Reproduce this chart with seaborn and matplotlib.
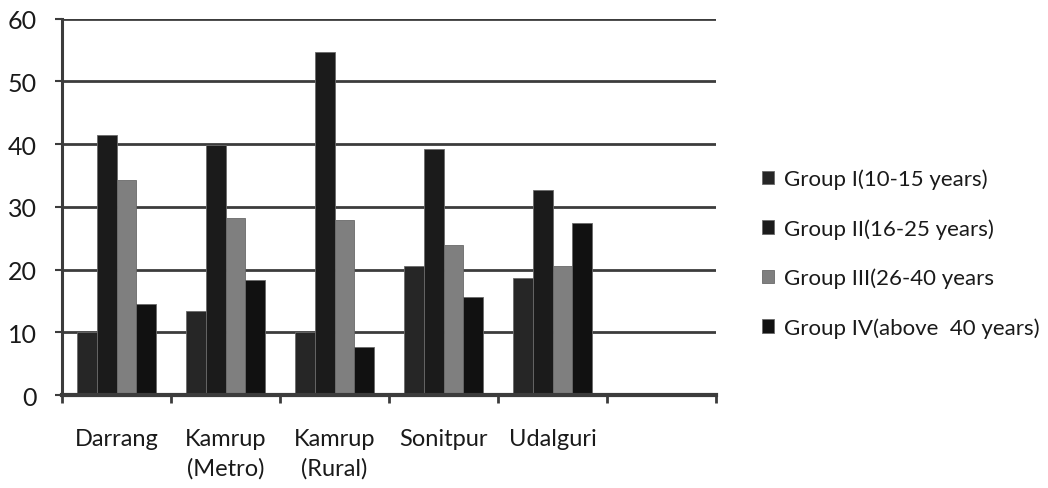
import numpy as np
import pandas as pd
import seaborn as sns
import matplotlib.pyplot as plt

# districts (the chart has one extra empty slot on the right)
districts = ["Darrang", "Kamrup\n(Metro)", "Kamrup\n(Rural)", "Sonitpur", "Udalguri"]
slots = districts + [""]

groups = ["Group I(10-15 years)", "Group II(16-25 years)",
          "Group III(26-40 years", "Group IV(above  40 years)"]

group1 = [10.0, 13.4, 10.0, 20.6, 18.7]
group2 = [41.5, 39.9, 54.6, 39.2, 32.7]
group3 = [34.3, 28.2, 27.9, 23.9, 20.6]
group4 = [14.5, 18.4, 7.6, 15.7, 27.5]

colors = ["#262626", "#1b1b1b", "#7f7f7f", "#111111"]

rows = []
for g, vals in zip(groups, [group1, group2, group3, group4]):
    for d, v in zip(districts, vals):
        rows.append({"District": d, "Group": g, "Value": v})
df = pd.DataFrame(rows)

sns.set_style("white")
plt.rcParams["font.family"] = ["Lato", "DejaVu Sans"]
plt.rcParams["text.color"] = "#1a1a1a"
plt.rcParams["xtick.labelcolor"] = "#1a1a1a"
plt.rcParams["ytick.labelcolor"] = "#1a1a1a"

fig = plt.figure(figsize=(10.48, 4.89), dpi=100)
ax = fig.add_axes([0.0592, 0.19, 0.624, 0.77])

sns.barplot(data=df, x="District", y="Value", hue="Group", order=slots,
            hue_order=groups, palette=colors, width=0.72,
            edgecolor="#6a6a6a", linewidth=0.6, ax=ax, zorder=3)

ax.set_ylim(0, 60)
ax.set_xlim(-0.5, len(slots) - 0.5)
ax.set_yticks(np.arange(0, 61, 10))
for yv in np.arange(10, 61, 10):
    ax.axhline(yv, color="#3c3c3c", lw=2.0, zorder=1)

# ticks between categories, labels centred on categories
ax.set_xticks(np.arange(-0.5, len(slots), 1.0))
ax.set_xticklabels([])
ax.set_xticks(np.arange(len(slots)), minor=True)
ax.set_xticklabels(slots, minor=True, fontsize=17, linespacing=1.45, va="top")
ax.tick_params(axis="x", which="major", direction="out", length=6, width=2,
               color="#3c3c3c", bottom=True)
ax.tick_params(axis="x", which="minor", length=0, pad=24)
ax.tick_params(axis="y", direction="out", length=5, width=1.5, color="#3c3c3c",
               left=True, labelsize=18, pad=13)

for s in ["top", "right"]:
    ax.spines[s].set_visible(False)
ax.spines["left"].set_color("#3c3c3c")
ax.spines["left"].set_linewidth(2.2)
ax.spines["bottom"].set_color("#3c3c3c")
ax.spines["bottom"].set_linewidth(3)
ax.spines["bottom"].set_zorder(4)

ax.set_xlabel("")
ax.set_ylabel("")

handles, labels = ax.get_legend_handles_labels()
ax.legend(handles, labels, loc="center left", bbox_to_anchor=(0.708, 0.48),
          bbox_transform=fig.transFigure, frameon=False, fontsize=16,
          handlelength=0.55, handleheight=0.55, handletextpad=0.45,
          labelspacing=1.3)

fig.savefig("out.png", dpi=100)
